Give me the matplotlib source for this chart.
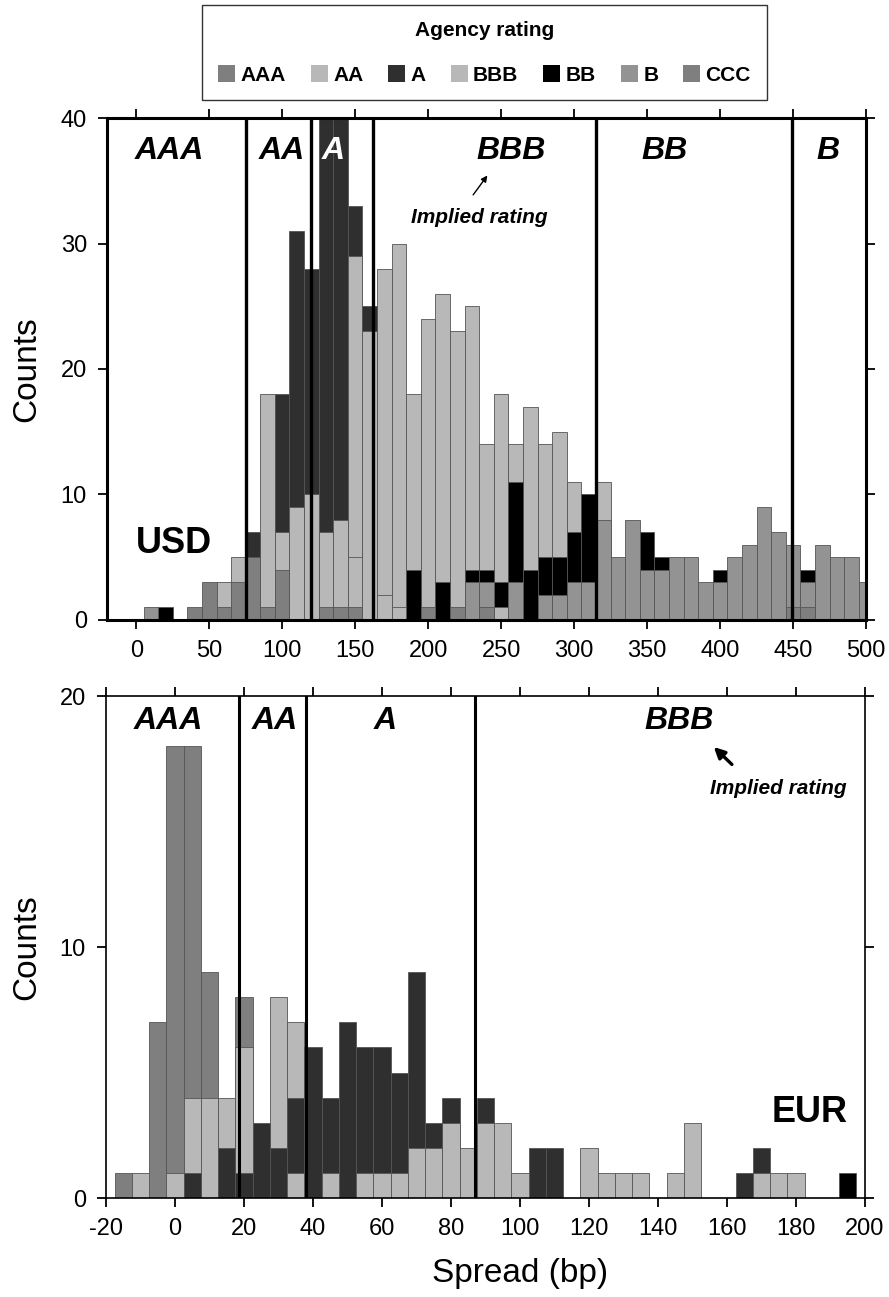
import matplotlib.pyplot as plt
from matplotlib.patches import Patch
import numpy as np

plt.rcParams['font.family'] = ['Liberation Sans', 'DejaVu Sans']
plt.rcParams['axes.unicode_minus'] = False

ratings = ['AAA', 'AA', 'A', 'BBB', 'BB', 'B', 'CCC']
rating_colors = ['#7f7f7f', '#b8b8b8', '#2f2f2f', '#b8b8b8', '#000000', '#939393', '#7f7f7f']

# USD panel: bins of 10 bp, centres 10..500
usd_centers = np.arange(10, 501, 10)
usd_aaa = [0, 0, 0, 1, 3, 1, 3, 5, 1, 4,
           0, 0, 1, 1, 1, 0, 0, 0, 0, 0,
           0, 0, 0, 0, 0, 0, 0, 0, 0, 0,
           0, 0, 0, 0, 0, 0, 0, 0, 0, 0,
           0, 0, 0, 0, 0, 0, 0, 0, 0, 0]
usd_aa = [0, 0, 0, 0, 0, 3, 5, 0, 18, 7,
          9, 10, 7, 8, 5, 0, 2, 1, 0, 0,
          0, 0, 0, 0, 1, 0, 0, 0, 0, 0,
          0, 0, 0, 0, 0, 0, 0, 0, 0, 0,
          0, 0, 0, 0, 0, 0, 0, 0, 0, 0]
usd_a = [0, 0, 0, 0, 0, 0, 0, 7, 0, 18,
         31, 28, 40, 40, 33, 25, 0, 0, 0, 0,
         0, 0, 0, 0, 0, 0, 0, 0, 0, 0,
         0, 0, 0, 0, 0, 0, 0, 0, 0, 0,
         0, 0, 0, 0, 0, 0, 0, 0, 0, 0]
usd_bbb = [0, 0, 0, 0, 0, 0, 0, 0, 0, 0,
           0, 0, 0, 0, 29, 23, 28, 30, 18, 24,
           26, 23, 25, 14, 18, 14, 17, 14, 15, 11,
           0, 11, 0, 0, 0, 0, 0, 0, 0, 0,
           0, 0, 0, 0, 0, 0, 0, 0, 0, 0]
usd_bb = [0, 1, 0, 0, 0, 0, 0, 0, 0, 0,
          0, 0, 0, 0, 0, 0, 0, 0, 4, 0,
          3, 0, 4, 4, 3, 11, 4, 5, 5, 7,
          10, 0, 0, 0, 7, 5, 0, 0, 0, 4,
          0, 0, 0, 0, 0, 4, 0, 0, 0, 0]
usd_b = [1, 0, 0, 0, 0, 0, 0, 0, 0, 0,
         0, 0, 0, 0, 0, 0, 0, 0, 0, 0,
         0, 0, 3, 3, 0, 3, 0, 2, 2, 3,
         3, 8, 5, 8, 4, 4, 5, 5, 3, 3,
         5, 6, 9, 7, 6, 3, 6, 5, 5, 3]
usd_ccc = [0, 0, 0, 0, 0, 0, 0, 0, 0, 0,
           0, 0, 0, 0, 0, 0, 0, 0, 0, 1,
           0, 1, 0, 1, 0, 0, 0, 0, 0, 0,
           0, 0, 0, 0, 0, 0, 0, 0, 0, 0,
           0, 0, 0, 0, 1, 1, 0, 0, 0, 0]

# EUR panel: bins of 5 bp, centres -15..195
eur_centers = np.arange(-15, 196, 5)
eur_aaa = [1, 0, 7, 18, 18, 9, 0, 8, 0, 0,
           0, 0, 0, 0, 0, 0, 0, 0, 0, 0,
           0, 0, 0, 0, 0, 0, 0, 0, 0, 0,
           0, 0, 0, 0, 0, 0, 0, 0, 0, 0,
           0, 0, 0]
eur_aa = [0, 1, 0, 1, 4, 4, 4, 6, 0, 8,
          7, 0, 1, 0, 1, 1, 1, 2, 2, 3,
          2, 0, 0, 0, 0, 0, 0, 0, 0, 0,
          0, 0, 0, 0, 0, 0, 0, 0, 0, 0,
          0, 0, 0]
eur_a = [0, 0, 0, 0, 1, 0, 2, 1, 3, 2,
         4, 6, 4, 7, 6, 6, 5, 9, 3, 4,
         0, 4, 0, 0, 2, 2, 0, 0, 0, 0,
         0, 0, 0, 0, 0, 0, 1, 2, 0, 0,
         0, 0, 0]
eur_bbb = [0, 0, 0, 0, 0, 0, 0, 0, 0, 0,
           1, 0, 0, 0, 0, 0, 0, 0, 0, 0,
           0, 3, 3, 1, 0, 0, 0, 2, 1, 1,
           1, 0, 1, 3, 0, 0, 0, 1, 1, 1,
           0, 0, 0]
eur_bb = [0, 0, 0, 0, 0, 0, 0, 0, 0, 0,
          0, 0, 0, 0, 0, 0, 0, 0, 0, 0,
          0, 0, 0, 0, 0, 0, 0, 0, 0, 0,
          0, 0, 0, 0, 0, 0, 0, 0, 0, 0,
          0, 0, 1]
eur_b = [0] * 43
eur_ccc = [0] * 43

# implied rating boundaries and labels
usd_bounds = [75, 120, 162, 315, 449]
usd_regions = ['AAA', 'AA', 'A', 'BBB', 'BB', 'B']
usd_region_x = [23, 100, 135, 257, 362, 474]
eur_bounds = [18.6, 38, 87]
eur_regions = ['AAA', 'AA', 'A', 'BBB']
eur_region_x = [-2, 29, 61, 146]


def draw_hist(ax, centers, series, width):
    # bars of each rating start at zero; the shorter one sits in front
    for counts, color in zip(series, rating_colors):
        bars = ax.bar(centers, counts, width=width, color=color,
                      edgecolor='#555555', linewidth=0.6)
        for p, h in zip(bars, counts):
            p.set_zorder(2 + 1.0 / (1 + h))
            if h == 0:
                p.set_visible(False)


def style_axes(ax, frame_lw):
    for s in ax.spines.values():
        s.set_linewidth(frame_lw)
    ax.tick_params(direction='out', top=True, right=True, length=6.5, width=1.3,
                   labelsize=17, pad=8, labeltop=False, labelright=False)
    ax.set_ylabel('Counts', fontsize=24)


fig = plt.figure(figsize=(8.89, 12.97), dpi=100)

# --- USD ---
ax1 = fig.add_axes([0.1204, 0.5220, 0.8538, 0.3870])
draw_hist(ax1, usd_centers,
          [usd_aaa, usd_aa, usd_a, usd_bbb, usd_bb, usd_b, usd_ccc], 10)
ax1.set_xlim(-20, 500)
ax1.set_ylim(0, 40)
ax1.set_xticks(np.arange(0, 501, 50))
ax1.set_yticks([0, 10, 20, 30, 40])
style_axes(ax1, 2.2)
ax1.yaxis.set_label_coords(-0.086, 0.5)
for b in usd_bounds:
    ax1.axvline(b, color='black', lw=2.4, zorder=5)
for name, x in zip(usd_regions, usd_region_x):
    ax1.text(x, 37.4, name, ha='center', va='center', fontsize=23,
             fontweight='bold', fontstyle='italic',
             color='white' if name == 'A' else 'black', zorder=6)
ax1.annotate('', xy=(241.7, 35.6), xytext=(229.7, 33.7),
             arrowprops=dict(arrowstyle='-|>', color='black', lw=1.0,
                             mutation_scale=9), zorder=6)
ax1.text(235, 32.1, 'Implied rating', ha='center', va='center', fontsize=15,
         fontweight='bold', fontstyle='italic', zorder=6)
ax1.text(26, 6.1, 'USD', ha='center', va='center', fontsize=26,
         fontweight='bold', zorder=6)

# --- EUR ---
ax2 = fig.add_axes([0.1192, 0.0763, 0.8538, 0.3870])
draw_hist(ax2, eur_centers,
          [eur_aaa, eur_aa, eur_a, eur_bbb, eur_bb, eur_b, eur_ccc], 5)
ax2.set_xlim(-20, 200)
ax2.set_ylim(0, 20)
ax2.set_xticks(np.arange(-20, 201, 20))
ax2.set_yticks([0, 10, 20])
style_axes(ax2, 1.2)
ax2.yaxis.set_label_coords(-0.084, 0.5)
ax2.set_xlabel('Spread (bp)', fontsize=24)
ax2.xaxis.set_label_coords(0.545, -0.12)
for b in eur_bounds:
    ax2.axvline(b, color='black', lw=2.2, zorder=5)
for name, x in zip(eur_regions, eur_region_x):
    ax2.text(x, 19.0, name, ha='center', va='center', fontsize=23,
             fontweight='bold', fontstyle='italic', zorder=6)
ax2.annotate('', xy=(155.6, 18.05), xytext=(162.0, 17.2),
             arrowprops=dict(arrowstyle='-|>', color='black', lw=2.4,
                             mutation_scale=16), zorder=6)
ax2.text(174.8, 16.33, 'Implied rating', ha='center', va='center', fontsize=15,
         fontweight='bold', fontstyle='italic', zorder=6)
ax2.text(184, 3.4, 'EUR', ha='center', va='center', fontsize=26,
         fontweight='bold', zorder=6)

# --- legend ---
handles = [Patch(facecolor=c, edgecolor='none') for c in rating_colors]
leg = fig.legend(handles, ratings, loc='upper center', ncol=7,
                 bbox_to_anchor=(0.545, 0.9961), frameon=True, fancybox=False,
                 edgecolor='black', title='Agency rating\n',
                 prop={'weight': 'bold', 'size': 15},
                 title_fontproperties={'weight': 'bold', 'size': 15},
                 handlelength=0.82, handleheight=0.82, handletextpad=0.25,
                 columnspacing=1.2, borderpad=0.75, borderaxespad=0)
leg.get_title().set_linespacing(0.75)
leg.get_frame().set_linewidth(1.0)

fig.savefig('out.png', dpi=100)
